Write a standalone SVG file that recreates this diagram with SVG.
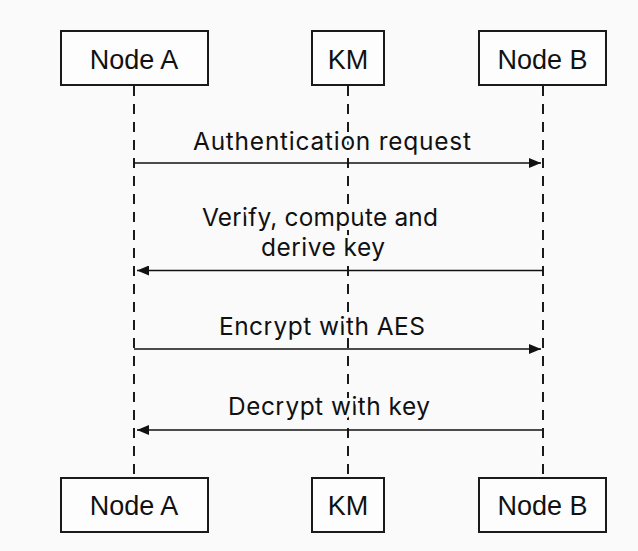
<svg xmlns="http://www.w3.org/2000/svg" width="638" height="551" viewBox="0 0 638 551">
  <defs>
    <marker id="arrow" viewBox="0 0 12 10" refX="12" refY="5" markerWidth="12" markerHeight="10" markerUnits="userSpaceOnUse" orient="auto">
      <path d="M0,0 L12,5 L0,10 Z" fill="#111"/>
    </marker>
    <style>
      .box { fill: #fdfdfd; stroke: #1a1a1a; stroke-width: 2; }
      .name { font-family: "Liberation Sans", Arial, sans-serif; font-size: 27px; fill: #111; text-anchor: middle; }
      .life { stroke: #1a1a1a; stroke-width: 2; stroke-dasharray: 10 8; fill: none; }
      .msg { stroke: #111; stroke-width: 1.6; fill: none; marker-end: url(#arrow); }
      .label { font-family: Inter, "Liberation Sans", sans-serif; font-size: 24.5px; fill: #111; text-anchor: middle;
               stroke: #fafafa; stroke-width: 6; stroke-linejoin: round; paint-order: stroke; }
    </style>
  </defs>

  <rect width="638" height="551" fill="#fafafa"/>

  <!-- lifelines and messages -->
  <g id="connectors">
    <line class="life" x1="134" y1="86" x2="134" y2="478"/>
    <line class="life" x1="348" y1="86" x2="348" y2="478"/>
    <line class="life" x1="543" y1="86" x2="543" y2="478"/>

    <line class="msg" x1="134" y1="163" x2="541" y2="163"/>
    <line class="msg" x1="543" y1="270.5" x2="137" y2="270.5"/>
    <line class="msg" x1="134" y1="349" x2="541" y2="349"/>
    <line class="msg" x1="543" y1="430" x2="137" y2="430"/>

    <text class="label" x="332" y="150" textLength="278" lengthAdjust="spacing">Authentication request</text>
    <text class="label" x="320" y="226" textLength="236" lengthAdjust="spacing">Verify, compute and</text>
    <text class="label" x="323" y="256" textLength="124" lengthAdjust="spacing">derive key</text>
    <text class="label" x="322" y="335" textLength="206" lengthAdjust="spacing">Encrypt with AES</text>
    <text class="label" x="329" y="415" textLength="202" lengthAdjust="spacing">Decrypt with key</text>
  </g>

  <!-- participants, top -->
  <g id="nodeA-top">
    <rect class="box" x="61" y="31" width="147" height="54"/>
    <text class="name" x="134" y="69">Node A</text>
  </g>
  <g id="km-top">
    <rect class="box" x="312" y="31" width="72" height="54"/>
    <text class="name" x="348" y="69">KM</text>
  </g>
  <g id="nodeB-top">
    <rect class="box" x="479" y="31" width="127" height="54"/>
    <text class="name" x="542.5" y="69">Node B</text>
  </g>

  <!-- participants, bottom -->
  <g id="nodeA-bottom">
    <rect class="box" x="61" y="478" width="147" height="54"/>
    <text class="name" x="134" y="515">Node A</text>
  </g>
  <g id="km-bottom">
    <rect class="box" x="312" y="478" width="72" height="54"/>
    <text class="name" x="348" y="515">KM</text>
  </g>
  <g id="nodeB-bottom">
    <rect class="box" x="479" y="478" width="127" height="54"/>
    <text class="name" x="542.5" y="515">Node B</text>
  </g>
</svg>
